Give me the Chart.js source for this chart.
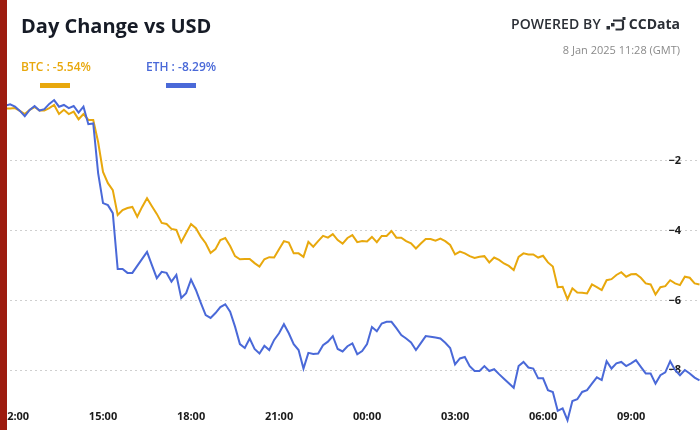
<!DOCTYPE html>
<html>
<head>
<meta charset="utf-8">
<script src="https://cdn.jsdelivr.net/npm/chart.js@4.4.1/dist/chart.umd.min.js"></script>
<style>
html,body{margin:0;padding:0;background:#fff;}
#wrap{position:relative;width:700px;height:430px;overflow:hidden;font-family:'Open Sans',sans-serif;}
#chart{position:absolute;left:0;top:0;}
#bar{position:absolute;left:0;top:0;width:7px;height:430px;background:#9d1c10;z-index:5;}
#title{position:absolute;left:21px;top:12px;font-size:20px;line-height:27px;font-weight:700;color:#161b26;white-space:nowrap;}
.leg{position:absolute;top:59px;font-size:12px;line-height:16px;font-weight:600;white-space:nowrap;}
.sw{position:absolute;top:83px;width:30px;height:5px;}
#powered{position:absolute;right:20px;top:14px;display:flex;align-items:center;font-size:14px;line-height:19px;color:#2b2f36;white-space:nowrap;}
#powered .pb{font-weight:600;letter-spacing:0.1px;}
#powered .cc{font-weight:700;}
#date{position:absolute;right:20px;top:42px;font-size:11px;line-height:15px;color:#8a8a8a;white-space:nowrap;}
</style>
</head>
<body>
<div id="wrap">
  <canvas id="chart" width="700" height="430"></canvas>
  <div id="bar"></div>
  <div id="title">Day Change vs USD</div>
  <div class="leg" id="legBtc" style="left:21px;color:#e8a80d;"></div>
  <div class="sw" style="left:40px;background:#e8a80d;"></div>
  <div class="leg" id="legEth" style="left:146px;color:#4a69d8;"></div>
  <div class="sw" style="left:166px;background:#4a69d8;"></div>
  <div id="powered"><span class="pb">POWERED BY</span>
    <svg width="20" height="14" viewBox="0 0 20 14" style="margin:0 3px 0 5px">
      <rect x="0.5" y="9" width="3.5" height="3.5" fill="#2b2f36"/>
      <path d="M7 3.5 h8.5 a1.5 1.5 0 0 1 1.5 1.5 v6 a1.5 1.5 0 0 1 -1.5 1.5 h-6" fill="none" stroke="#2b2f36" stroke-width="2.2"/>
      <rect x="5" y="6" width="3.5" height="3.5" fill="#2b2f36"/>
      <rect x="16.5" y="0" width="3" height="3" fill="#2b2f36"/>
    </svg>
    <span class="cc">CCData</span></div>
  <div id="date">8 Jan 2025 11:28 (GMT)</div>
</div>
<script>
// Series: day change (%) vs USD, one value every 10 minutes starting 11:30 (7 Jan 2025)
const seriesNames = ['BTC', 'ETH'];
const lastValues = [-5.54, -8.29];
const startMinutes = -30;   // minutes relative to 12:00 on 7 Jan
const stepMinutes = 10;

const btc = [
  -0.45,-0.50,-0.50,-0.49,-0.57,-0.66,-0.54,-0.46,-0.56,-0.56,
  -0.49,-0.40,-0.66,-0.54,-0.66,-0.59,-0.81,-0.66,-0.83,-0.83,
  -1.46,-2.32,-2.64,-2.84,-3.55,-3.41,-3.35,-3.32,-3.60,-3.32,
  -3.07,-3.30,-3.52,-3.78,-3.81,-3.95,-3.98,-4.33,-4.07,-3.81,
  -3.93,-4.17,-4.36,-4.64,-4.53,-4.27,-4.21,-4.44,-4.73,-4.82,
  -4.81,-4.81,-4.93,-5.03,-4.82,-4.76,-4.77,-4.53,-4.30,-4.34,
  -4.65,-4.65,-4.75,-4.32,-4.46,-4.30,-4.15,-4.20,-4.10,-4.27,
  -4.37,-4.21,-4.13,-4.33,-4.30,-4.31,-4.18,-4.33,-4.15,-4.15,
  -4.01,-4.20,-4.20,-4.30,-4.36,-4.51,-4.37,-4.24,-4.24,-4.29,
  -4.23,-4.30,-4.41,-4.68,-4.60,-4.65,-4.73,-4.78,-4.75,-4.73,
  -4.91,-4.77,-4.84,-4.94,-5.01,-5.13,-4.75,-4.65,-4.68,-4.68,
  -4.77,-4.72,-4.91,-5.03,-5.62,-5.61,-5.96,-5.65,-5.77,-5.78,
  -5.80,-5.54,-5.62,-5.70,-5.42,-5.39,-5.27,-5.19,-5.32,-5.25,
  -5.24,-5.35,-5.51,-5.54,-5.83,-5.62,-5.59,-5.42,-5.51,-5.56,
  -5.32,-5.35,-5.51,-5.54
];
const eth = [
  -0.40,-0.42,-0.38,-0.45,-0.57,-0.72,-0.54,-0.43,-0.56,-0.52,
  -0.37,-0.26,-0.45,-0.40,-0.49,-0.43,-0.62,-0.45,-0.95,-0.93,
  -2.35,-3.21,-3.27,-3.50,-5.10,-5.10,-5.21,-5.21,-5.01,-4.81,
  -4.61,-4.99,-5.36,-5.18,-5.21,-5.46,-5.27,-5.93,-5.79,-5.40,
  -5.70,-6.07,-6.42,-6.50,-6.36,-6.19,-6.11,-6.32,-6.75,-7.25,
  -7.36,-7.09,-7.39,-7.52,-7.30,-7.42,-7.13,-6.94,-6.68,-6.94,
  -7.25,-7.42,-7.95,-7.50,-7.53,-7.52,-7.28,-7.18,-7.02,-7.39,
  -7.46,-7.31,-7.23,-7.54,-7.45,-7.25,-6.76,-6.88,-6.66,-6.61,
  -6.61,-6.79,-6.99,-7.09,-7.20,-7.42,-7.22,-7.02,-7.04,-7.06,
  -7.09,-7.21,-7.36,-7.83,-7.66,-7.62,-7.88,-8.02,-8.02,-7.88,
  -8.02,-7.97,-8.11,-8.24,-8.37,-8.50,-7.88,-7.76,-7.92,-7.95,
  -8.23,-8.23,-8.57,-8.62,-9.16,-9.09,-9.43,-8.88,-8.83,-8.62,
  -8.57,-8.38,-8.20,-8.28,-7.74,-7.95,-7.80,-7.76,-7.88,-7.80,
  -7.71,-7.90,-8.09,-8.09,-8.38,-8.14,-8.06,-7.74,-7.99,-8.14,
  -7.99,-8.09,-8.21,-8.29
];
const xTickMinutes = [0, 180, 360, 540, 720, 900, 1080, 1260];
const xTickLabels = ['12:00','15:00','18:00','21:00','00:00','03:00','06:00','09:00'];
const yTickValues = [-8, -6, -4, -2];

const colors = { BTC: '#e8a80d', ETH: '#4a69d8' };

document.getElementById('legBtc').textContent = seriesNames[0] + ' : ' + lastValues[0].toFixed(2) + '%';
document.getElementById('legEth').textContent = seriesNames[1] + ' : ' + lastValues[1].toFixed(2) + '%';

const toPoints = arr => arr.map((v, i) => ({ x: startMinutes + i * stepMinutes, y: v }));

new Chart(document.getElementById('chart'), {
  type: 'line',
  data: {
    datasets: [
      { label: 'ETH', data: toPoints(eth), borderColor: colors.ETH, borderWidth: 2, pointRadius: 0, tension: 0, order: 0, fill: false },
      { label: 'BTC', data: toPoints(btc), borderColor: colors.BTC, borderWidth: 2, pointRadius: 0, tension: 0, order: 1, fill: false }
    ]
  },
  options: {
    responsive: false,
    animation: false,
    layout: { padding: { top: 91, left: 0, right: 0, bottom: 0 } },
    plugins: { legend: { display: false }, tooltip: { enabled: false } },
    scales: {
      x: {
        type: 'linear', min: -30.7, max: 1401, position: 'bottom',
        grid: { display: false, drawTicks: false },
        border: { display: false },
        afterBuildTicks: s => { s.ticks = xTickMinutes.map(v => ({ value: v })); },
        afterFit: s => { s.height = 0; s.paddingLeft = 0; s.paddingRight = 0; s.paddingTop = 0; s.paddingBottom = 0; },
        ticks: {
          mirror: true, padding: 7, autoSkip: false, maxRotation: 0, minRotation: 0,
          color: '#1a1a1a',
          font: { family: 'Open Sans', size: 11, weight: 'bold' },
          callback: v => xTickLabels[xTickMinutes.indexOf(v)]
        }
      },
      y: {
        type: 'linear', min: -9.71, max: 0, position: 'right',
        grid: { color: '#cfcfcf', lineWidth: 1, drawTicks: false },
        border: { display: false, dash: [2, 3] },
        afterBuildTicks: s => { s.ticks = yTickValues.map(v => ({ value: v })); },
        afterFit: s => { s.width = 0; s.paddingLeft = 0; s.paddingRight = 0; s.paddingTop = 0; s.paddingBottom = 0; },
        ticks: {
          mirror: true, padding: -19,
          color: '#1a1a1a',
          font: { family: 'Open Sans', size: 11, weight: 'bold' },
          callback: v => '\u2212' + Math.abs(v)
        }
      }
    }
  }
});
</script>
</body>
</html>
